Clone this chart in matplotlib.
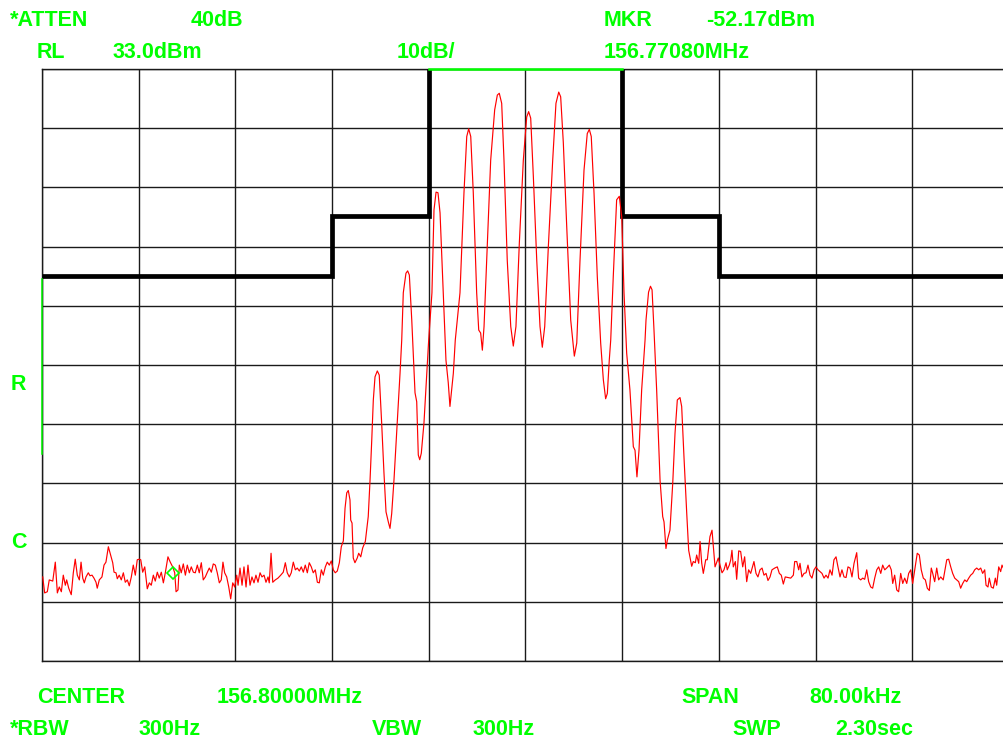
import numpy as np
import matplotlib
matplotlib.use("Agg")
import matplotlib.pyplot as plt

plt.rcParams['font.family'] = ['Liberation Sans', 'DejaVu Sans']

# analyser screen: 80 kHz span around 156.8 MHz, RL 33 dBm, 10 dB/div
span_khz = 80.0
ref_level = 33.0
db_per_div = 10.0

# limit mask (kHz offset from centre, dBm)
mask_khz = [-40, -16, -16, -8, -8, 8, 8, 16, 16, 40]
mask_dbm = [-2.0, -2.0, 8.2, 8.2, 33.0, 33.0, 8.2, 8.2, -2.0, -2.0]

# green reference bar on the left edge
rbar_dbm = [-2.5, -32.0]

marker_khz = -29.2
marker_dbm = -52.17

# trace: (kHz offset, dBm)
trace_left = [
    (-39.94, -52.8), (-39.78, -55.5), (-39.56, -55.3), (-39.40, -53.3), (-39.11, -53.5),
    (-38.90, -50.3), (-38.73, -55.5), (-38.57, -54.5), (-38.40, -55.3), (-38.24, -52.5),
    (-38.07, -54.2), (-37.96, -53.3), (-37.79, -54.7), (-37.58, -55.8), (-37.41, -52.1),
    (-37.25, -49.8), (-37.08, -52.5), (-36.91, -53.3), (-36.77, -50.3), (-36.63, -53.0),
    (-36.50, -53.8), (-36.36, -52.8), (-36.17, -52.1), (-36.03, -52.6), (-35.86, -52.5),
    (-35.70, -53.0), (-35.53, -53.7), (-35.43, -54.7), (-35.26, -53.3), (-35.04, -52.8),
    (-34.87, -50.8), (-34.71, -50.3), (-34.51, -47.7), (-34.32, -49.1), (-34.15, -50.4),
    (-34.04, -52.0), (-33.88, -52.1), (-33.77, -53.1), (-33.61, -52.5), (-33.44, -53.3),
    (-33.27, -52.1), (-33.11, -53.7), (-32.94, -53.3), (-32.78, -54.3), (-32.61, -52.8),
    (-32.45, -50.8), (-32.28, -52.5), (-32.12, -49.9), (-31.95, -49.8),
    (-31.83, -49.9), (-31.67, -52.0), (-31.50, -51.1), (-31.29, -54.8), (-31.12, -53.8),
    (-30.96, -54.2), (-30.79, -52.5), (-30.63, -53.5), (-30.46, -52.0), (-30.30, -53.0),
    (-30.13, -52.0), (-29.96, -53.8), (-29.80, -52.1), (-29.58, -49.4), (-29.39, -50.3),
    (-29.19, -51.1), (-29.02, -52.1), (-28.91, -55.3), (-28.75, -55.0), (-28.64, -50.8),
    (-28.48, -52.1), (-28.31, -50.6), (-28.14, -52.5), (-27.98, -50.8), (-27.81, -52.1),
    (-27.65, -51.1), (-27.48, -52.0), (-27.32, -52.1), (-27.15, -50.8), (-26.99, -52.1),
    (-26.82, -50.4), (-26.66, -53.3), (-26.49, -52.8), (-26.32, -52.0), (-26.16, -51.3),
    (-25.99, -52.0), (-25.83, -50.6), (-25.66, -50.8), (-25.50, -52.1), (-25.33, -53.8),
    (-25.17, -53.3), (-25.03, -50.3), (-24.89, -52.1), (-24.72, -52.8), (-24.55, -54.5),
    (-24.39, -56.5), (-24.22, -53.8), (-24.06, -54.5), (-23.89, -52.5),
    (-23.78, -54.2), (-23.62, -51.3), (-23.45, -54.2), (-23.29, -51.1), (-23.12, -54.5),
    (-22.96, -50.8), (-22.79, -54.2), (-22.63, -52.8), (-22.46, -53.8), (-22.30, -52.5),
    (-22.13, -53.7), (-21.96, -52.1), (-21.80, -52.8), (-21.63, -52.5), (-21.47, -53.7),
    (-21.30, -52.8), (-21.20, -53.8), (-21.05, -48.8), (-20.91, -53.7), (-20.70, -53.3),
    (-20.48, -53.0), (-20.25, -52.5), (-20.04, -52.0), (-19.87, -50.4), (-19.71, -52.1),
    (-19.54, -52.8), (-19.38, -52.1), (-19.21, -50.3), (-19.04, -51.6), (-18.88, -51.3),
    (-18.71, -51.8), (-18.55, -51.1), (-18.38, -52.0), (-18.22, -50.8), (-18.05, -52.1),
    (-17.89, -50.4), (-17.72, -51.1), (-17.56, -52.1), (-17.39, -51.6), (-17.22, -53.7),
    (-17.06, -53.8), (-16.89, -51.6), (-16.73, -52.5), (-16.56, -51.1), (-16.40, -50.3),
    (-16.23, -50.8), (-16.07, -50.1), (-15.90, -51.6), (-15.74, -52.1), (-15.57, -51.8),
    (-15.40, -50.4), (-15.24, -47.7), (-15.07, -46.7),
]

trace_signal = [
    (-14.93, -41.2), (-14.79, -38.6), (-14.66, -38.2), (-14.52, -39.8), (-14.46, -43.2),
    (-14.35, -43.7), (-14.25, -49.6), (-14.11, -50.4), (-13.92, -49.6), (-13.80, -48.8),
    (-13.63, -49.4), (-13.47, -47.9), (-13.25, -46.8), (-13.01, -42.6), (-12.86, -36.4),
    (-12.72, -29.7), (-12.59, -22.9), (-12.45, -19.0), (-12.26, -18.0), (-12.10, -18.7),
    (-11.90, -26.8), (-11.71, -35.2), (-11.54, -41.8), (-11.35, -43.5), (-11.21, -44.6),
    (-11.07, -42.1), (-10.88, -36.4), (-10.61, -26.8), (-10.38, -18.4), (-10.24, -12.8),
    (-10.11, -4.8), (-9.89, -1.5), (-9.75, -1.1), (-9.61, -1.8), (-9.41, -9.4),
    (-9.14, -21.7), (-9.00, -23.2), (-8.87, -32.2), (-8.75, -33.0), (-8.62, -31.9),
    (-8.40, -26.8), (-8.17, -18.4), (-8.01, -12.8), (-7.74, -4.8), (-7.57, 9.2),
    (-7.40, 12.2), (-7.24, 12.1), (-7.07, 8.7), (-6.80, -4.8), (-6.58, -16.2),
    (-6.39, -20.0), (-6.25, -24.0), (-6.11, -21.2), (-5.97, -18.4), (-5.81, -12.8),
    (-5.42, -4.8), (-5.09, 12.1), (-4.86, 21.6), (-4.70, 22.9), (-4.53, 21.6),
    (-4.32, 12.1), (-4.04, -4.8), (-3.87, -11.1), (-3.71, -11.6), (-3.57, -14.5),
    (-3.43, -10.5), (-3.21, 0.7), (-2.88, 17.6), (-2.55, 26.1), (-2.33, 28.6),
    (-2.17, 28.9), (-1.97, 27.2), (-1.78, 17.6), (-1.51, 0.7), (-1.22, -10.5),
    (-1.01, -13.8), (-0.79, -10.5), (-0.51, 3.6), (-0.18, 17.6), (0.10, 24.9),
    (0.26, 25.8), (0.43, 24.7), (0.65, 14.8), (0.93, 0.7), (1.20, -10.5),
    (1.39, -14.0), (1.59, -10.5), (1.89, 3.0), (2.25, 17.6), (2.52, 27.2),
    (2.75, 29.1), (2.91, 28.3), (3.13, 20.5), (3.41, 6.4), (3.74, -9.4),
    (4.04, -15.5), (4.24, -13.3), (4.51, 0.7), (4.84, 15.9), (5.11, 22.1),
    (5.28, 22.8), (5.44, 21.6), (5.67, 12.0), (5.94, -2.1), (6.22, -13.3),
    (6.44, -19.5), (6.63, -22.7), (6.77, -21.8), (6.93, -16.2), (7.05, -12.8),
    (7.26, -2.1), (7.54, 10.9), (7.76, 11.5), (7.96, 8.0), (8.15, -4.8),
    (8.37, -15.0), (8.64, -21.2), (8.92, -30.8), (9.06, -31.4), (9.22, -35.9),
    (9.39, -31.4), (9.61, -21.2), (9.89, -12.8), (9.97, -9.4), (10.18, -4.7),
    (10.34, -3.7), (10.47, -4.3), (10.63, -11.1), (10.85, -21.2), (11.13, -36.4),
    (11.35, -42.6), (11.46, -43.5), (11.62, -48.0), (11.73, -46.6), (11.95, -44.9),
    (12.18, -37.0), (12.37, -28.5), (12.56, -22.9), (12.78, -22.5), (12.92, -24.0),
    (13.11, -32.5), (13.34, -42.1), (13.50, -48.3), (13.75, -51.0), (13.88, -50.2),
    (14.05, -50.4), (14.16, -49.1), (14.33, -50.5), (14.44, -46.8), (14.58, -50.5),
    (14.71, -52.2), (14.91, -49.9), (15.04, -49.9), (15.26, -46.0), (15.43, -44.9),
    (15.68, -51.1), (15.95, -49.6),
]

trace_right = [
    (16.09, -50.8), (16.26, -52.1), (16.42, -51.6), (16.59, -50.4), (16.69, -51.6),
    (16.86, -50.8), (16.98, -49.9), (17.08, -48.3), (17.19, -51.1), (17.36, -50.2),
    (17.47, -53.2), (17.64, -48.4), (17.80, -48.5), (17.97, -51.1), (18.13, -49.4),
    (18.30, -53.6), (18.46, -51.6), (18.63, -52.2), (18.90, -50.2), (19.07, -52.2),
    (19.23, -52.8), (19.40, -51.6), (19.57, -51.3), (19.73, -52.5), (19.90, -52.2),
    (20.06, -53.4), (20.23, -52.8), (20.39, -51.6), (20.62, -51.3), (20.83, -51.1),
    (21.00, -52.2), (21.16, -52.5), (21.33, -54.0), (21.49, -52.8), (21.72, -52.9),
    (21.94, -53.0), (22.16, -52.5), (22.27, -50.2), (22.44, -50.2), (22.60, -51.6),
    (22.71, -50.5), (22.87, -52.8), (23.04, -52.2), (23.21, -52.1), (23.37, -50.8),
    (23.54, -52.5), (23.70, -53.0), (23.87, -51.6), (24.03, -51.1), (24.20, -51.6),
    (24.36, -51.9), (24.53, -52.2), (24.70, -53.0), (24.86, -52.5), (25.03, -53.0),
    (25.19, -51.6), (25.36, -52.5), (25.52, -49.9), (25.69, -49.4), (25.85, -51.1),
    (26.02, -52.8), (26.18, -51.6), (26.35, -52.8), (26.52, -52.9), (26.68, -51.1),
    (26.85, -51.3), (27.01, -52.8), (27.18, -50.5), (27.40, -48.7), (27.56, -53.0),
    (27.73, -53.3), (27.90, -53.0), (28.06, -53.2), (28.23, -51.6), (28.39, -53.6),
    (28.56, -54.5), (28.72, -54.7), (28.89, -53.0), (29.06, -51.6), (29.22, -51.1),
    (29.39, -52.2), (29.55, -50.8), (29.72, -51.6), (29.88, -51.3), (30.10, -50.8),
    (30.26, -51.6), (30.38, -53.9), (30.54, -52.5), (30.71, -55.0), (30.87, -55.3),
    (31.04, -52.2), (31.21, -53.9), (31.37, -53.0), (31.54, -53.9), (31.70, -52.2),
    (31.87, -51.6), (32.03, -53.9), (32.20, -51.6), (32.41, -48.8), (32.58, -49.1),
    (32.74, -51.6), (32.91, -53.0), (33.08, -53.3), (33.24, -54.7), (33.41, -55.1),
    (33.57, -51.3), (33.69, -52.2), (33.85, -53.6), (34.02, -51.3), (34.18, -53.3),
    (34.35, -52.8), (34.56, -53.3), (34.85, -49.9), (35.01, -49.8), (35.18, -51.1),
    (35.34, -52.2), (35.51, -53.0), (35.67, -53.3), (35.84, -53.6), (36.00, -54.7),
    (36.17, -53.9), (36.34, -53.3), (36.50, -53.6), (36.67, -53.0), (36.83, -52.5),
    (37.00, -52.2), (37.16, -51.6), (37.33, -51.3), (37.49, -51.6), (37.66, -51.3),
    (37.82, -52.2), (37.99, -51.6), (38.10, -54.2), (38.26, -54.5), (38.37, -53.0),
    (38.53, -54.5), (38.70, -54.7), (38.87, -53.0), (38.98, -54.2), (39.15, -51.1),
    (39.31, -51.9), (39.42, -50.8), (39.53, -51.3), (39.70, -52.0),
]

# annotation texts: (string, left px, baseline px)
header = [
    ("*ATTEN", 10, 26), ("40dB", 191, 26), ("MKR", 604, 26), ("-52.17dBm", 706, 26),
    ("RL", 37, 58), ("33.0dBm", 113, 58), ("10dB/", 397, 58), ("156.77080MHz", 604, 58),
]
footer = [
    ("CENTER", 37, 703), ("156.80000MHz", 217, 703), ("SPAN", 681, 703), ("80.00kHz", 809, 703),
    ("*RBW", 10, 735), ("300Hz", 139, 735), ("VBW", 372, 735), ("300Hz", 473, 735),
    ("SWP", 732, 735), ("2.30sec", 835, 735),
]
side = [("R", 11, 390), ("C", 11, 548)]

W, H = 1004, 738
GREEN = '#00ff00'

fig = plt.figure(figsize=(W / 100, H / 100), dpi=100)
ax = fig.add_axes([42 / W, 1 - 661 / H, 967 / W, 592 / H])

trace = np.array(trace_left + trace_signal + trace_right)

ax.set_xlim(-span_khz / 2, span_khz / 2)
ax.set_ylim(ref_level - 10 * db_per_div, ref_level)
ax.set_xticks(np.linspace(-span_khz / 2, span_khz / 2, 11))
ax.set_yticks(np.linspace(ref_level - 10 * db_per_div, ref_level, 11))
ax.grid(True, color='#1a1a1a', linewidth=1.0, zorder=1)
ax.set_axisbelow(True)
ax.tick_params(length=0, labelbottom=False, labelleft=False)
for sp in ax.spines.values():
    sp.set_color('#1a1a1a')
    sp.set_linewidth(1.0)

# mask: black sides, green top segment
ax.plot(mask_khz[:5], mask_dbm[:5], color='black', lw=3.4, zorder=3,
        solid_joinstyle='miter', solid_capstyle='butt')
ax.plot(mask_khz[5:], mask_dbm[5:], color='black', lw=3.4, zorder=3,
        solid_joinstyle='miter', solid_capstyle='butt')
ax.plot(mask_khz[4:6], mask_dbm[4:6], color=GREEN, lw=1.8, zorder=3, clip_on=False)

ax.plot([-span_khz / 2] * 2, rbar_dbm, color=GREEN, lw=1.1, zorder=4, clip_on=False)

ax.plot(trace[:, 0], trace[:, 1], color='#ff0000', lw=0.85, zorder=4)
ax.plot([marker_khz], [marker_dbm], marker='D', ms=6, mfc='none', mec=GREEN,
        mew=1.2, zorder=5)

for s, x, y in header + footer + side:
    fig.text(x / W, 1 - y / H, s, color=GREEN, fontsize=15.5, fontweight='bold',
             ha='left', va='baseline')

fig.savefig('out.png', dpi=100, facecolor='white')
